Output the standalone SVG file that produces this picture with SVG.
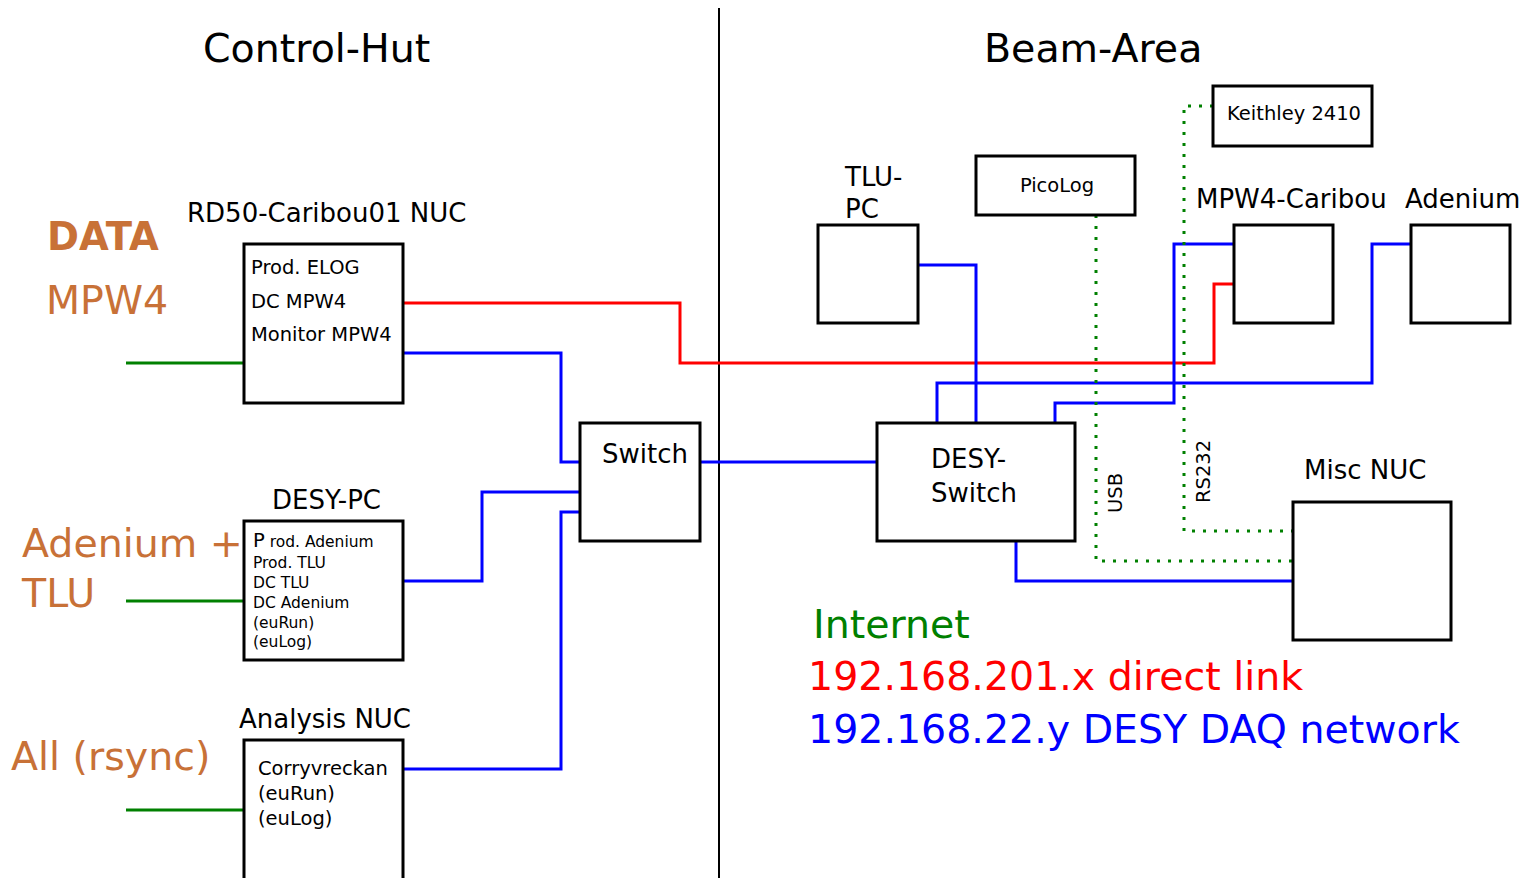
<svg xmlns="http://www.w3.org/2000/svg" width="1525" height="878" viewBox="0 0 1525 878">
<style>
text{font-family:"DejaVu Sans","Liberation Sans",sans-serif;fill:#000}
.box{fill:#fff;stroke:#000;stroke-width:3}
.w{fill:none;stroke-width:3;stroke-linejoin:miter}
.b{stroke:#0000ff}
.r{stroke:#ff0000}
.g{stroke:#008000}
.dot{stroke:#008000;stroke-dasharray:3 8}
.or{fill:#c87137;font-size:39.5px}
.t40{font-size:39.5px}
.t26{font-size:26px}
.t19{font-size:19.5px}
.t15{font-size:15.5px}
</style>
<rect width="1525" height="878" fill="#fff"/>
<line x1="719" y1="8" x2="719" y2="878" stroke="#000" stroke-width="2"/>
<text class="t40" x="203" y="62">Control-Hut</text>
<text class="t40" x="984" y="62">Beam-Area</text>

<g id="connectors">
<path class="w g" d="M126,363H244M126,601H244M126,810H244"/>
<path class="w r" d="M403,303H680V363H1214V284H1234"/>
<path class="w b" d="M403,353H561V462H580"/>
<path class="w b" d="M403,581H482V492H580"/>
<path class="w b" d="M403,769H561V512H580"/>
<path class="w b" d="M700,462H877"/>
<path class="w b" d="M918,265H976V423"/>
<path class="w b" d="M1411,244H1372V383H937V423"/>
<path class="w b" d="M1234,244H1174V403H1055V423"/>
<path class="w b" d="M1016,541V581H1293"/>
<path class="w dot" d="M1096,215V561H1293"/>
<path class="w dot" d="M1213,106H1184V531H1293"/>
<text class="t19" transform="translate(1122,513) rotate(-90)">USB</text>
<text class="t19" transform="translate(1210,503) rotate(-90)">RS232</text>
</g>

<g id="labels-left">
<text class="or" x="47" y="250" font-weight="bold" style="font-size:38.5px">DATA</text>
<text class="or" x="46" y="314">MPW4</text>
<text class="or" x="22" y="557">Adenium +</text>
<text class="or" x="22" y="607">TLU</text>
<text class="or" x="11" y="770">All (rsync)</text>
</g>

<g id="rd50-nuc">
<text class="t26" x="187" y="222">RD50-Caribou01 NUC</text>
<rect class="box" x="244" y="244" width="159" height="159"/>
<text class="t19" x="251" y="274">Prod. ELOG</text>
<text class="t19" x="251" y="308">DC MPW4</text>
<text class="t19" x="251" y="341">Monitor MPW4</text>
</g>

<g id="desy-pc">
<text class="t26" x="272" y="509">DESY-PC</text>
<rect class="box" x="244" y="521" width="159" height="139"/>
<text class="t15" x="253" y="547"><tspan font-size="19.5">P</tspan> rod. Adenium</text>
<text class="t15" x="253" y="568">Prod. TLU</text>
<text class="t15" x="253" y="588">DC TLU</text>
<text class="t15" x="253" y="608">DC Adenium</text>
<text class="t15" x="253" y="628">(euRun)</text>
<text class="t15" x="253" y="647">(euLog)</text>
</g>

<g id="analysis-nuc">
<text class="t26" x="239" y="728">Analysis NUC</text>
<rect class="box" x="244" y="740" width="159" height="145"/>
<text class="t19" x="258" y="775">Corryvreckan</text>
<text class="t19" x="258" y="800">(euRun)</text>
<text class="t19" x="258" y="825">(euLog)</text>
</g>

<g id="switch">
<rect class="box" x="580" y="423" width="120" height="118"/>
<text class="t26" x="602" y="463">Switch</text>
</g>

<g id="tlu-pc">
<text class="t26" x="845" y="186">TLU-</text>
<text class="t26" x="845" y="218">PC</text>
<rect class="box" x="818" y="225" width="100" height="98"/>
</g>

<g id="picolog">
<rect class="box" x="976" y="156" width="159" height="59"/>
<text class="t19" x="1057" y="192" text-anchor="middle" font-size="19">PicoLog</text>
</g>

<g id="keithley">
<rect class="box" x="1213" y="86" width="159" height="60"/>
<text class="t19" x="1227" y="120" font-size="19">Keithley 2410</text>
</g>

<g id="mpw4-caribou">
<text class="t26" x="1196" y="208">MPW4-Caribou</text>
<rect class="box" x="1234" y="225" width="99" height="98"/>
</g>

<g id="adenium">
<text class="t26" x="1405" y="208">Adenium</text>
<rect class="box" x="1411" y="225" width="99" height="98"/>
</g>

<g id="desy-switch">
<rect class="box" x="877" y="423" width="198" height="118"/>
<text class="t26" x="931" y="468">DESY-</text>
<text class="t26" x="931" y="502">Switch</text>
</g>

<g id="misc-nuc">
<text class="t26" x="1304" y="479">Misc NUC</text>
<rect class="box" x="1293" y="502" width="158" height="138"/>
</g>

<g id="legend">
<text class="t40" x="813" y="638" style="fill:#008000">Internet</text>
<text class="t40" x="808" y="690" style="fill:#ff0000">192.168.201.x direct link</text>
<text class="t40" x="808" y="743" style="fill:#0000ff">192.168.22.y DESY DAQ network</text>
</g>
</svg>
